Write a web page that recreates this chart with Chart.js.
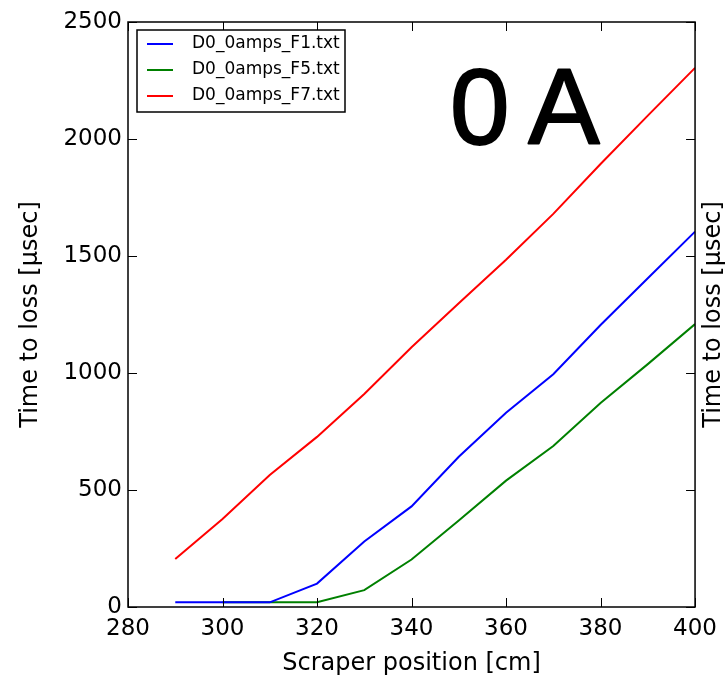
<!DOCTYPE html>
<html>
<head>
<meta charset="utf-8">
<script src="https://cdn.jsdelivr.net/npm/chart.js@4"></script>
<style>
  html, body { margin: 0; padding: 0; background: #fff; }
  #wrap { width: 725px; height: 678px; }
</style>
</head>
<body>
<div id="wrap"><canvas id="lossChart"></canvas></div>
<script>
// scraper positions [cm]
const positions = [290, 300, 310, 320, 330, 340, 350, 360, 370, 380, 390, 400];
// time to loss [usec]
const lossF1 = [20, 20, 20, 100, 280, 430, 642, 830, 995, 1205, 1405, 1604];
const lossF5 = [null, 20, 20, 20, 72, 203, 370, 540, 688, 872, 1038, 1209];
const lossF7 = [205, 376, 564, 727, 910, 1110, 1298, 1484, 1680, 1893, 2100, 2304];
const seriesLabels = ["D0_0amps_F1.txt", "D0_0amps_F5.txt", "D0_0amps_F7.txt"];
const seriesColors = ["#0000ff", "#008000", "#ff0000"];
const xTicks = [280, 300, 320, 340, 360, 380, 400];
const yTicks = [0, 500, 1000, 1500, 2000, 2500];

const FONT = "'DejaVu Sans', 'Bitstream Vera Sans', sans-serif";

function toPoints(values) {
  const pts = [];
  values.forEach((v, i) => {
    if (v !== null) pts.push({ x: positions[i], y: v });
  });
  return pts;
}

// frame, inward ticks, legend box, big label and the twin y label
const decorPlugin = {
  id: "decor",
  afterDraw(chart) {
    const ctx = chart.ctx;
    const a = chart.chartArea;
    const xs = chart.scales.x;
    const ys = chart.scales.y;
    const tickLen = 9;

    ctx.save();
    ctx.strokeStyle = "#000";
    ctx.lineWidth = 1;
    ctx.beginPath();
    xTicks.forEach((t) => {
      const px = Math.round(xs.getPixelForValue(t)) + 0.5;
      ctx.moveTo(px, a.bottom);
      ctx.lineTo(px, a.bottom - tickLen);
      ctx.moveTo(px, a.top);
      ctx.lineTo(px, a.top + tickLen);
    });
    yTicks.forEach((t) => {
      const py = Math.round(ys.getPixelForValue(t)) + 0.5;
      ctx.moveTo(a.left, py);
      ctx.lineTo(a.left + tickLen, py);
      ctx.moveTo(a.right, py);
      ctx.lineTo(a.right - tickLen, py);
    });
    ctx.stroke();

    ctx.lineWidth = 1.5;
    ctx.strokeRect(a.left, a.top, a.right - a.left, a.bottom - a.top);

    // legend
    const bx = a.left + 9;
    const by = a.top + 8;
    const bw = 208;
    const bh = 82;
    ctx.fillStyle = "#fff";
    ctx.fillRect(bx, by, bw, bh);
    ctx.lineWidth = 1.5;
    ctx.strokeStyle = "#000";
    ctx.strokeRect(bx, by, bw, bh);
    ctx.font = "17px " + FONT;
    ctx.textBaseline = "middle";
    ctx.textAlign = "left";
    chart.data.datasets.forEach((ds, i) => {
      const ry = by + 14 + i * 26;
      ctx.strokeStyle = ds.borderColor;
      ctx.lineWidth = 2;
      ctx.beginPath();
      ctx.moveTo(bx + 10, ry);
      ctx.lineTo(bx + 36, ry);
      ctx.stroke();
      ctx.fillStyle = "#000";
      ctx.fillText(ds.label, bx + 55, ry);
    });

    // big current label
    ctx.save();
    ctx.fillStyle = "#000";
    ctx.strokeStyle = "#000";
    ctx.lineWidth = 2;
    ctx.lineJoin = "round";
    ctx.font = "107px 'Liberation Sans', Arial, sans-serif";
    ctx.wordSpacing = "-11px";
    ctx.textAlign = "left";
    ctx.textBaseline = "alphabetic";
    ctx.fillText("0 A", 450, 144);
    ctx.strokeText("0 A", 450, 144);
    ctx.restore();

    // twin axis label on the right, cut by the canvas edge
    ctx.translate(a.right + 19, (a.top + a.bottom) / 2);
    ctx.rotate(-Math.PI / 2);
    ctx.fillStyle = "#000";
    ctx.font = "24px " + FONT;
    ctx.textAlign = "center";
    ctx.textBaseline = "middle";
    ctx.fillText("Time to loss [\u03bcsec]", 0, 0);
    ctx.restore();
  },
};

new Chart(document.getElementById("lossChart"), {
  type: "line",
  data: {
    datasets: [
      { label: seriesLabels[0], data: toPoints(lossF1), borderColor: seriesColors[0] },
      { label: seriesLabels[1], data: toPoints(lossF5), borderColor: seriesColors[1] },
      { label: seriesLabels[2], data: toPoints(lossF7), borderColor: seriesColors[2] },
    ],
  },
  options: {
    responsive: true,
    maintainAspectRatio: false,
    animation: false,
    layout: { padding: { top: 22, right: 28, bottom: 0, left: 0 } },
    elements: {
      point: { radius: 0 },
      line: { borderWidth: 2, tension: 0, fill: false },
    },
    plugins: {
      legend: { display: false },
      tooltip: { enabled: false },
    },
    scales: {
      x: {
        type: "linear",
        min: 280,
        max: 400,
        afterBuildTicks: (scale) => {
          scale.ticks = xTicks.map((v) => ({ value: v }));
        },
        afterFit: (scale) => {
          scale.height = 71;
        },
        ticks: {
          color: "#000",
          font: { family: FONT, size: 23 },
          padding: 8,
          maxRotation: 0,
          callback: (v) => String(v),
        },
        grid: { display: false, drawTicks: false, tickLength: 0 },
        border: { display: false },
        title: {
          display: true,
          text: "Scraper position [cm]",
          color: "#000",
          font: { family: FONT, size: 24 },
          padding: { top: 0, bottom: 0 },
        },
      },
      y: {
        min: 0,
        max: 2500,
        afterBuildTicks: (scale) => {
          scale.ticks = yTicks.map((v) => ({ value: v }));
        },
        afterFit: (scale) => {
          scale.width = 128;
        },
        ticks: {
          color: "#000",
          font: { family: FONT, size: 23 },
          padding: 6,
          callback: (v) => String(v),
        },
        grid: { display: false, drawTicks: false, tickLength: 0 },
        border: { display: false },
        title: {
          display: true,
          text: "Time to loss [\u03bcsec]",
          color: "#000",
          font: { family: FONT, size: 24 },
          padding: { top: 16, bottom: 0 },
        },
      },
    },
  },
  plugins: [decorPlugin],
});
</script>
</body>
</html>
